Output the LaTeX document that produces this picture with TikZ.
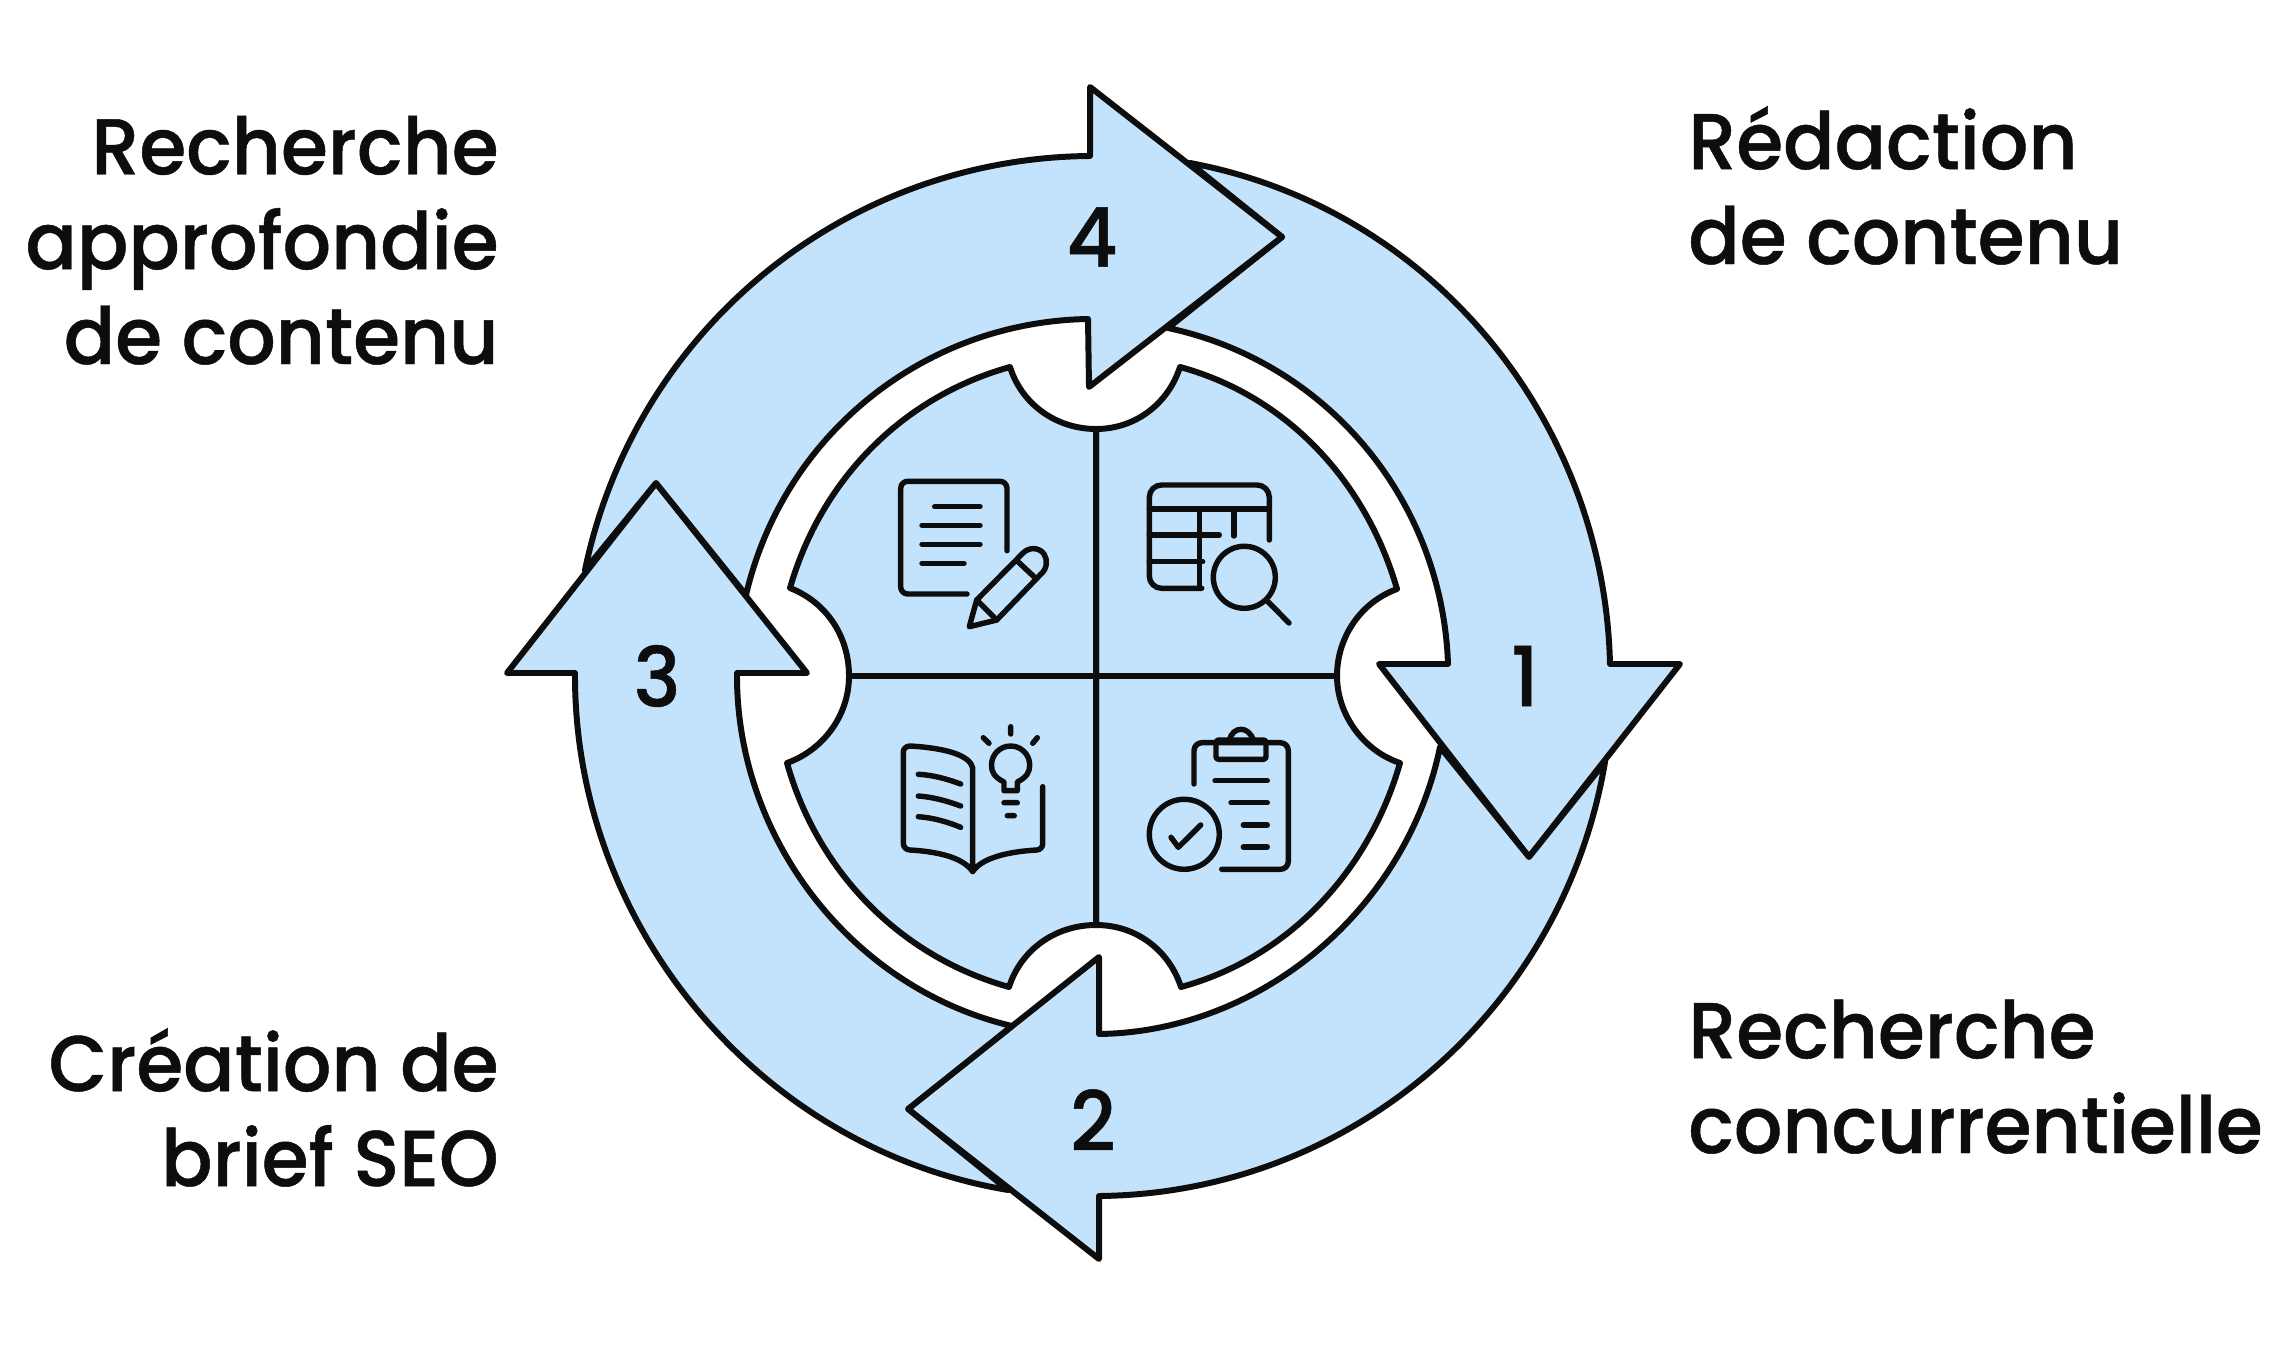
\documentclass[tikz,border=0pt]{standalone}
\usepackage{fontspec}
\setmainfont{Poppins Medium}[FakeStretch=0.96,FakeBold=0.6]
\definecolor{ink}{HTML}{0D0D0D}
\definecolor{pale}{HTML}{C3E3FD}
% Bezier approximation of a circular arc A to B about centre C, k signed (+ clockwise on screen)
\newcommand\carc[7]{.. controls ({#1-#5*(#2-#7)},{#2+#5*(#1-#6)}) and ({#3+#5*(#4-#7)},{#4-#5*(#3-#6)}) .. (#3,#4)}
\tikzset{
  x=0.02cm,y=-0.02cm,
  shape outline/.style={draw=ink,fill=pale,line width=3.4pt,line join=round},
  icon/.style={draw=ink,line width=3.1pt,line cap=round,line join=round},
  label text/.style={inner sep=0pt,align=#1,font=\fontsize{45}{54}\selectfont,text=ink},
  digit/.style={inner sep=0pt,font=\fontsize{47}{54}\selectfont,text=ink},
}
\begin{document}
\begin{tikzpicture}
\useasboundingbox (0,0) rectangle (2282,1372);
\fill[white] (0,0) rectangle (2282,1372);
% ring arrows
\path[shape outline] (1190,163) \carc{1190}{163}{1610}{664}{.472}{1094}{676} -- (1680,664) -- (1529,857) -- (1379,664) -- (1448,664) \carc{1448}{664}{1168}{328}{-.46}{1094}{676} -- (1282,237) -- cycle;
\path[shape outline] (1605,762) \carc{1605}{762}{1099}{1196}{.485}{1094}{676} -- (1099,1259) -- (908,1109) -- (1099,957) -- (1099,1034) \carc{1099}{1034}{1440}{747}{-.46}{1094}{676} -- (1529,857) -- cycle;
\path[shape outline] (1008,1190) \carc{1008}{1190}{575}{673}{.485}{1094}{676} -- (507,673) -- (656,483) -- (807,673) -- (737,673) \carc{737}{673}{1012}{1026}{-.46}{1094}{676} -- (908,1109) -- cycle;
\path[shape outline] (585,570) \carc{585}{570}{1090}{156}{.472}{1094}{676} -- (1090,87) -- (1282,237) -- (1089,387) -- (1088,319) \carc{1088}{319}{746}{595}{-.46}{1094}{676} -- (656,483) -- cycle;
% quadrants
\path[shape outline] (1096,676) -- (1096,429) \carc{1096}{429}{1180}{367}{-.44}{1096}{340} \carc{1180}{367}{1397}{589}{.351}{1096}{676} \carc{1397}{589}{1337}{676}{-.42}{1429}{676} -- cycle;
\path[shape outline] (1096,676) -- (1337,676) \carc{1337}{676}{1400}{763}{-.42}{1429}{676} \carc{1400}{763}{1181}{987}{.351}{1096}{676} \carc{1181}{987}{1096}{925}{-.44}{1096}{1015} -- cycle;
\path[shape outline] (1096,676) -- (1096,925) \carc{1096}{925}{1009}{987}{-.44}{1096}{1015} \carc{1009}{987}{787}{763}{.351}{1096}{676} \carc{787}{763}{849}{676}{-.42}{755.5}{676} -- cycle;
\path[shape outline] (1096,676) -- (849,676) \carc{849}{676}{790}{588}{-.42}{755.5}{676} \carc{790}{588}{1010}{367}{.351}{1096}{676} \carc{1010}{367}{1096}{429}{-.44}{1096}{340} -- cycle;
% icon: document and pencil
\draw[icon,rounded corners=4pt] (1007,550.7) -- (1007,481.3) -- (900.7,481.3) -- (900.7,594) -- (967,594);
\draw[icon] (934.7,506.7) -- (980,506.7) (922,525.3) -- (980,525.3) (922,544.3) -- (980,544.3) (922,563.3) -- (964,563.3);
\draw[icon] (976.7,600) -- (1023,553) .. controls (1029,547) and (1039,547) .. (1044,554) .. controls (1048,560) and (1047,569) .. (1041,574) -- (996.7,620) -- (969.3,626.7) -- cycle;
\draw[icon] (976.7,600) -- (996.7,620) (1018,561.7) -- (1034,576.7);
% icon: table and magnifier
\draw[icon,rounded corners=7pt] (1269.3,540) -- (1269.3,485) -- (1149.3,485) -- (1149.3,588.3) -- (1201.7,588.3);
\draw[icon] (1149.3,509) -- (1269.3,509) (1199.3,509) -- (1199.3,588) (1234,509) -- (1234,536) (1149.3,535) -- (1219.3,535) (1149.3,561.7) -- (1202.7,561.7);
\draw[icon] (1244.3,577.3) circle[radius=31];
\draw[icon] (1268,601.7) -- (1289,623);
% icon: book and bulb
\draw[icon] (972.7,866) -- (972.7,768) .. controls (970,755) and (945,748) .. (910,746) .. controls (906,746) and (903.3,749) .. (903.3,752) -- (903.3,843) .. controls (903.3,847) and (906,850) .. (910,850) .. controls (945,852) and (965,860) .. (972.7,871.7) .. controls (980,860) and (1002,852) .. (1036.7,850) .. controls (1040,850) and (1042.7,847) .. (1042.7,844) -- (1042.7,786.7);
\draw[icon] (918.3,774.3) .. controls (933,775) and (947,779) .. (960.7,784) (918.3,796) .. controls (933,797) and (947,801) .. (960.7,806) (918.3,816.7) .. controls (933,817.7) and (947,821.7) .. (960.7,827.3);
\draw[icon] (1004,790.7) -- (1004,782) .. controls (994,777) and (991.5,772) .. (991.5,765) .. controls (991.5,754.5) and (1000,746) .. (1010.7,746) .. controls (1021,746) and (1029.7,754.5) .. (1029.7,765) .. controls (1029.7,772) and (1027,777) .. (1017.3,782) -- (1017.3,790.7) -- cycle;
\draw[icon] (1004,802.7) -- (1017.3,802.7) (1007.3,815.7) -- (1014.3,815.7) (1010.7,726.7) -- (1010.7,734) (983.3,737.7) -- (989,743.3) (1037.3,737.7) -- (1032.7,743.3);
% icon: clipboard and check
\draw[icon,rounded corners=4.5pt] (1194,784) -- (1194,742.7) -- (1288.3,742.7) -- (1288.3,869.3) -- (1221.7,869.3);
\draw[icon,rounded corners=1.5pt] (1216,740) rectangle (1266,759.3);
\draw[icon] (1229.3,740) .. controls (1231,733) and (1236,729.3) .. (1241,729.3) .. controls (1246,729.3) and (1251,733) .. (1253.3,740);
\draw[icon] (1215,780.7) -- (1267.3,780.7) (1231,802.7) -- (1267.3,802.7) (1243.3,825) -- (1267.3,825) (1243.3,847) -- (1267.3,847);
\draw[icon] (1184.3,834.3) circle[radius=35];
\draw[icon] (1171,837.3) -- (1178.3,847.3) -- (1200.7,825);
% digits
\node[digit] (n1) at (1525,676) {1};
\node[digit] (n2) at (1093,1120) {2};
\node[digit] (n3) at (657,676) {3};
\node[digit] (n4) at (1092,237) {4};
% labels
\node[label text=right,anchor=base east] (l4) at (499,364) {Recherche\\approfondie\\de contenu};
\node[label text=left,anchor=base west] (l1) at (1688,264) {Rédaction\\de contenu};
\node[label text=left,anchor=base west] (l2) at (1688,1153) {Recherche\\concurrentielle};
\node[label text=right,anchor=base east] (l3) at (499,1186) {Création de\\brief SEO};
\end{tikzpicture}
\end{document}
